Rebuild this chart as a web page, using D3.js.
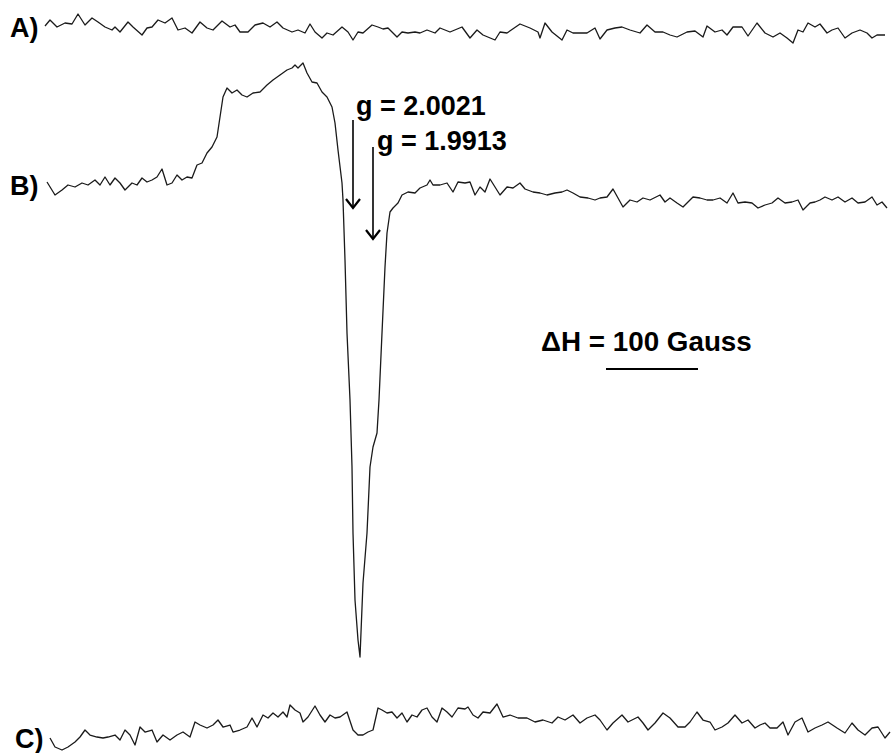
<!DOCTYPE html>
<html>
<head>
<meta charset="utf-8">
<script src="https://cdn.jsdelivr.net/npm/d3@7"></script>
<style>
  html, body { margin: 0; padding: 0; background: #fff; }
  svg { display: block; }
  text { font-family: "Liberation Sans", Arial, sans-serif; font-weight: bold; fill: #000; }
</style>
</head>
<body>
<svg id="chart" width="891" height="753"></svg>
<script>
// ---- data (x: field point index, y: signal, arbitrary units) ----
const traceLabels = ["A)", "B)", "C)"];
const traceOffsets = [157, 0, -540];   // vertical stacking offsets, signal units

const traceA = [[0,2],[5,8],[12,1],[20,5],[27,4],[33,14],[40,3],[47,10],[53,6],[60,1],[67,-2],[70,1],[75,-4],[83,6],[88,1],[97,-7],[102,0],[107,1],[113,8],[120,5],[127,10],[133,-2],[140,0],[147,-5],[155,6],[162,0],[168,-2],[177,7],[185,1],[190,3],[195,-4],[203,-4],[210,3],[218,5],[225,1],[232,6],[238,0],[247,-4],[253,-2],[260,-5],[265,4],[270,-4],[277,-10],[282,-5],[288,-7],[297,1],[303,-4],[308,-12],[313,-4],[318,-5],[327,3],[333,1],[338,-1],[343,0],[352,-9],[357,-4],[363,-5],[370,-4],[375,-5],[382,-2],[390,-5],[395,0],[405,-4],[417,1],[425,-10],[432,-2],[438,-7],[450,-12],[455,-4],[462,-5],[475,4],[485,0],[493,-4],[495,-10],[500,5],[507,-4],[517,-12],[522,-2],[528,-5],[542,-5],[550,0],[555,-11],[562,-2],[570,0],[577,1],[585,-2],[595,-5],[602,3],[610,-4],[618,-4],[625,-7],[632,-9],[642,-4],[650,-3],[658,-9],[662,2],[670,-4],[677,-2],[682,-7],[688,1],[697,1],[703,-8],[712,5],[720,-5],[728,-9],[735,-5],[742,-10],[748,-15],[753,-2],[758,-4],[763,5],[770,1],[775,4],[782,-5],[787,-2],[793,0],[800,-10],[807,-5],[815,-2],[822,-5],[827,-10],[832,-7],[840,-7]];

const traceB = [[2,3],[10,-10],[17,-5],[23,0],[30,-2],[37,2],[43,0],[50,5],[55,0],[60,8],[65,0],[70,7],[75,2],[80,-5],[87,2],[92,0],[97,7],[102,3],[107,5],[112,8],[117,16],[122,0],[127,2],[132,10],[137,5],[142,8],[147,7],[152,20],[157,22],[162,32],[167,38],[172,48],[175,68],[178,88],[182,97],[187,92],[192,95],[197,90],[202,88],[208,92],[215,93],[222,100],[228,105],[235,110],[242,115],[247,117],[250,120],[253,117],[258,122],[262,112],[267,103],[272,102],[277,93],[282,88],[287,78],[290,62],[293,35],[297,2],[298,-15],[300,-75],[302,-148],[305,-215],[307,-282],[308,-348],[310,-415],[313,-455],[315,-472],[318,-398],[322,-348],[325,-282],[328,-262],[332,-248],[334,-215],[337,-148],[340,-82],[342,-48],[345,-27],[348,-23],[353,-18],[357,-10],[363,-7],[370,-8],[375,-3],[382,0],[385,5],[388,0],[395,0],[402,2],[408,-7],[413,3],[420,2],[425,3],[430,-10],[435,-2],[440,-7],[445,6],[450,-2],[455,-10],[462,-2],[468,-3],[475,2],[480,-4],[488,-7],[495,-8],[502,-10],[510,-8],[517,-7],[522,-5],[528,-8],[535,-12],[543,-13],[550,-15],[555,-13],[562,-12],[568,-4],[573,-13],[578,-22],[585,-15],[592,-17],[598,-13],[605,-15],[615,-10],[620,-17],[625,-13],[632,-18],[638,-22],[643,-17],[648,-12],[655,-13],[662,-15],[668,-15],[675,-13],[682,-18],[688,-8],[693,-18],[700,-17],[707,-18],[713,-23],[720,-20],[727,-18],[733,-13],[740,-18],[747,-17],[753,-15],[758,-25],[765,-18],[770,-17],[775,-15],[780,-12],[787,-15],[793,-12],[800,-17],[807,-13],[813,-18],[820,-17],[827,-12],[832,-20],[837,-17],[842,-23]];

const traceC = [[5,-13],[10,-22],[17,-25],[23,-22],[30,-17],[35,-12],[40,-5],[45,-10],[52,-12],[58,-13],[63,-12],[70,-10],[75,-15],[80,-5],[85,-10],[90,-20],[95,-2],[100,-7],[107,-5],[112,-17],[118,-10],[125,-15],[132,-10],[138,-7],[145,-12],[150,3],[155,0],[162,-3],[168,0],[173,5],[178,-2],[185,0],[188,-7],[195,-5],[202,-2],[207,7],[212,-2],[218,10],[223,7],[228,12],[233,8],[238,13],[242,8],[245,20],[250,15],[255,12],[258,3],[263,8],[270,19],[275,10],[280,3],[285,10],[290,7],[295,8],[302,13],[308,-5],[313,-10],[318,-10],[323,-7],[328,-5],[333,17],[337,15],[342,12],[347,13],[352,7],[357,12],[362,3],[367,10],[372,8],[377,15],[382,17],[387,8],[392,3],[397,17],[402,13],[407,8],[413,17],[420,16],[423,18],[428,10],[433,7],[438,13],[445,12],[452,21],[458,8],[465,10],[473,7],[482,7],[490,3],[498,5],[507,2],[513,8],[520,5],[528,10],[535,2],[542,7],[550,10],[555,5],[562,-5],[568,2],[577,10],[583,3],[593,8],[598,2],[603,-5],[610,2],[618,12],[625,7],[633,-2],[640,-2],[645,3],[652,13],[658,5],[665,3],[670,-5],[677,-2],[683,2],[690,10],[697,2],[703,5],[710,-3],[715,0],[720,2],[725,-3],[732,-3],[738,3],[743,-10],[750,3],[757,7],[763,-7],[770,-3],[777,0],[783,3],[792,-3],[800,-8],[807,2],[813,-5],[820,-10],[827,-3],[833,-2],[840,-13],[845,-7]];

const gMarkers = [{label: "g = 2.0021", x: 308}, {label: "g = 1.9913", x: 328}];
const gaussPerPoint = 1.087;
const scaleBarGauss = 100;
const scaleBarStart = 561;
const scaleLabel = "\u0394H = 100 Gauss";

// ---- drawing ----
const svg = d3.select("#chart");
const x = d3.scaleLinear().domain([0, 845]).range([45, 890]);
const y = d3.scaleLinear().domain([-568, 185]).range([753, 0]);

const traces = [traceA, traceB, traceC];
const line = d3.line().x(d => x(d[0])).y(d => y(d[1])).curve(d3.curveLinear);

traces.forEach((tr, i) => {
  const off = traceOffsets[i];
  svg.append("path")
    .datum(tr.map(d => [d[0], d[1] + off]))
    .attr("d", line)
    .attr("fill", "none")
    .attr("stroke", "#1a1a1a")
    .attr("stroke-width", 1.3)
    .attr("stroke-linejoin", "round");
});

// trace labels
const labelPos = [{lx: 10, ly: 37}, {lx: 10, ly: 195}, {lx: 15, ly: 748}];
traceLabels.forEach((t, i) => {
  svg.append("text")
    .attr("x", labelPos[i].lx)
    .attr("y", labelPos[i].ly)
    .attr("font-size", 27)
    .text(t);
});

// g-value arrows & labels
const arrowGeom = [{y0: 120, y1: 208, tx: 356, ty: 115}, {y0: 147, y1: 239, tx: 377, ty: 150}];
gMarkers.forEach((g, i) => {
  const ax = x(g.x);
  const a = arrowGeom[i];
  svg.append("line")
    .attr("x1", ax).attr("x2", ax)
    .attr("y1", a.y0).attr("y2", a.y1)
    .attr("stroke", "#000").attr("stroke-width", 1.6);
  svg.append("path")
    .attr("d", `M${ax - 7},${a.y1 - 9} L${ax},${a.y1} L${ax + 7},${a.y1 - 9}`)
    .attr("fill", "none").attr("stroke", "#000").attr("stroke-width", 2.2);
  svg.append("text")
    .attr("x", a.tx).attr("y", a.ty)
    .attr("font-size", 27)
    .text(g.label);
});

// scale annotation
svg.append("text")
  .attr("transform", "translate(541,351) scale(1.03,1)")
  .attr("font-size", 27)
  .text(scaleLabel);
svg.append("line")
  .attr("x1", x(scaleBarStart))
  .attr("x2", x(scaleBarStart + scaleBarGauss / gaussPerPoint))
  .attr("y1", 369).attr("y2", 369)
  .attr("stroke", "#000").attr("stroke-width", 2.2);
</script>
</body>
</html>
